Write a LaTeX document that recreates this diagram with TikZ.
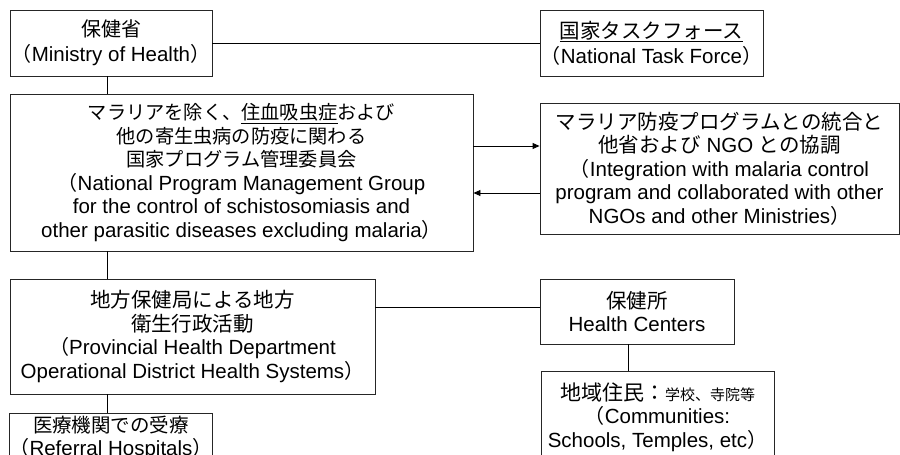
\documentclass[tikz,border=0pt]{standalone}
\usepackage{fontspec}
\setmainfont{Liberation Sans}
\newfontfamily\jp{Noto Sans CJK JP}
\newcommand\J[2]{{\jp\fontsize{#1pt}{23.5pt}\selectfont #2}}
\usetikzlibrary{arrows.meta}
\begin{document}
\begin{tikzpicture}[x=1pt,y=-1pt,
  box/.style={draw=black!85, line width=0.9pt, align=center, inner sep=0pt,
    font=\fontsize{20.5}{23.5}\selectfont},
  topbox/.style={box, font=\fontsize{20.5}{25}\selectfont},
  link/.style={draw=black, line width=0.9pt},
  arr/.style={link, -{Triangle[length=7pt,width=6pt]}}]
\clip (0,0) rectangle (900,455);
\fill[white] (0,0) rectangle (900,455);
\node[topbox, minimum width=202pt, minimum height=66pt] (moh) at (111,43)
  {\J{20}{保健省}\\\J{20}{（}Ministry of Health\J{20}{）}};
\node[topbox, minimum width=223pt, minimum height=66pt] (ntf) at (651.5,43)
  {\underline{\J{20.5}{国家タスクフォース}}\\\J{20}{（}National Task Force\J{20}{）}};
\node[box, minimum width=463pt, minimum height=157pt] (npmg) at (241.5,172.5)
  {\J{19.2}{マラリアを除く、\underline{住血吸虫症}および}\\\J{19.2}{他の寄生虫病の防疫に関わる}\\\J{19.2}{国家プログラム管理委員会}\\\J{20}{（}National Program Management Group\\for the control of schistosomiasis and\\other parasitic diseases excluding malaria\J{20}{）}};
\node[box, minimum width=359pt, minimum height=131pt] (integ) at (719.5,168.5)
  {\J{20.5}{マラリア防疫プログラムとの統合と}\\\J{20.5}{他省および} NGO \J{20.5}{との協調}\\\J{20}{（}Integration with malaria control\\program and collaborated with other\\NGOs and other Ministries\J{20}{）}};
\node[box, minimum width=365pt, minimum height=115pt] (prov) at (192.5,336.5)
  {\J{20.5}{地方保健局による地方}\\\J{20.5}{衛生行政活動}\\\J{20}{（}Provincial Health Department\\Operational District Health Systems\J{20}{）}};
\node[box, minimum width=194pt, minimum height=65pt] (hc) at (637,311.5)
  {\J{20.5}{保健所}\\Health Centers};
\node[box, minimum width=233pt, minimum height=92pt] (comm) at (657.5,417)
  {\J{21}{地域住民：}\J{15}{学校、寺院等}\\\J{20}{（}Communities:\\Schools, Temples, etc\J{20}{）}};
\node[box, minimum width=202pt, minimum height=50pt] (ref) at (111,438)
  {\J{19.5}{医療機関での受療}\\\J{20}{（}Referral Hospitals\J{20}{）}};
\coordinate (vx) at (107,0);
\coordinate (vy) at (628,0);
\coordinate (a1) at (0,146);
\coordinate (a2) at (0,193);
\coordinate (h1) at (0,307);
\draw[link] (moh.east) -- (ntf.west);
\draw[link] (vx |- moh.south) -- (vx |- npmg.north);
\draw[link] (vx |- npmg.south) -- (vx |- prov.north);
\draw[link] (vx |- prov.south) -- (vx |- ref.north);
\draw[arr] (npmg.east |- a1) -- (integ.west |- a1);
\draw[arr] (integ.west |- a2) -- (npmg.east |- a2);
\draw[link] (prov.east |- h1) -- (hc.west |- h1);
\draw[link] (vy |- hc.south) -- (vy |- comm.north);
\end{tikzpicture}
\end{document}
